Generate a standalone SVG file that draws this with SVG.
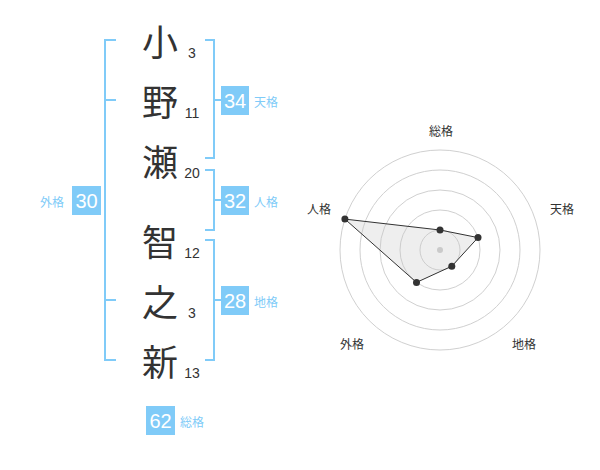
<svg xmlns="http://www.w3.org/2000/svg" width="600" height="470" viewBox="0 0 600 470">
<style>
.k{font-family:"Noto Sans CJK JP","Noto Sans CJK SC",sans-serif;font-size:36px;fill:#333;text-anchor:middle;dominant-baseline:central}
.n{font-family:"Liberation Sans",Arial,sans-serif;font-size:14px;fill:#333;text-anchor:middle;dominant-baseline:central}
.br{fill:none;stroke:#80cbf8;stroke-width:2}
.box{fill:#80cbf8}
.bv{font-family:"Liberation Sans",Arial,sans-serif;font-size:20px;fill:#fff;text-anchor:middle;dominant-baseline:central}
.bl{font-family:"Noto Sans CJK JP","Noto Sans CJK SC",sans-serif;font-size:12px;fill:#80cbf8;dominant-baseline:central}
.ring{fill:none;stroke:#d0d0d0;stroke-width:1}
.rl{font-family:"Noto Sans CJK JP","Noto Sans CJK SC",sans-serif;font-size:12px;fill:#333;text-anchor:middle;dominant-baseline:central}
</style>
<g id="chars">
<g id="c1"><text class="k" x="160" y="40">小</text><text class="n" x="192" y="53">3</text></g>
<g id="c2"><text class="k" x="160" y="100">野</text><text class="n" x="192" y="113">11</text></g>
<g id="c3"><text class="k" x="160" y="160">瀬</text><text class="n" x="192" y="173">20</text></g>
<g id="c4"><text class="k" x="160" y="240">智</text><text class="n" x="192" y="253">12</text></g>
<g id="c5"><text class="k" x="160" y="300">之</text><text class="n" x="192" y="313">3</text></g>
<g id="c6"><text class="k" x="160" y="360">新</text><text class="n" x="192" y="373">13</text></g>
</g>
<g id="connectors">
<path class="br" d="M116,40 H105 V360 H116 M105,100 H116 M105,300 H116"/>
<path class="br" d="M205,40 H214 V158 H205 M214,100 H222"/>
<path class="br" d="M205,170 H214 V230 H205 M214,200 H222"/>
<path class="br" d="M205,240 H214 V360 H205 M214,300 H222"/>
</g>
<g id="tenkaku"><rect class="box" x="221" y="86" width="28" height="29"/><text class="bv" x="235" y="101">34</text><text class="bl" x="254" y="101">天格</text></g>
<g id="jinkaku"><rect class="box" x="221" y="186" width="28" height="29"/><text class="bv" x="235" y="201">32</text><text class="bl" x="254" y="201">人格</text></g>
<g id="chikaku"><rect class="box" x="221" y="286" width="28" height="29"/><text class="bv" x="235" y="301">28</text><text class="bl" x="254" y="301">地格</text></g>
<g id="gaikaku"><rect class="box" x="72" y="186" width="29" height="29"/><text class="bv" x="86.5" y="201">30</text><text class="bl" x="40" y="201">外格</text></g>
<g id="soukaku"><rect class="box" x="146" y="406" width="29" height="29"/><text class="bv" x="160.5" y="421">62</text><text class="bl" x="180" y="421">総格</text></g>
<g id="radar">
<circle class="ring" cx="440" cy="250" r="20"/>
<circle class="ring" cx="440" cy="250" r="40"/>
<circle class="ring" cx="440" cy="250" r="60"/>
<circle class="ring" cx="440" cy="250" r="80"/>
<circle class="ring" cx="440" cy="250" r="100"/>
<circle cx="440" cy="250" r="3" fill="#ccc"/>
<polygon points="440,230 478,237.6 451.8,266.2 416.5,282.4 344.9,219.1" fill="rgba(200,200,200,0.3)" stroke="#333" stroke-width="1"/>
<g fill="#333">
<circle cx="440" cy="230" r="3.5"/>
<circle cx="478" cy="237.6" r="3.5"/>
<circle cx="451.8" cy="266.2" r="3.5"/>
<circle cx="416.5" cy="282.4" r="3.5"/>
<circle cx="344.9" cy="219.1" r="3.5"/>
</g>
<text class="rl" x="441" y="130">総格</text>
<text class="rl" x="562" y="208">天格</text>
<text class="rl" x="319" y="208">人格</text>
<text class="rl" x="352" y="343">外格</text>
<text class="rl" x="524" y="343">地格</text>
</g>
</svg>
